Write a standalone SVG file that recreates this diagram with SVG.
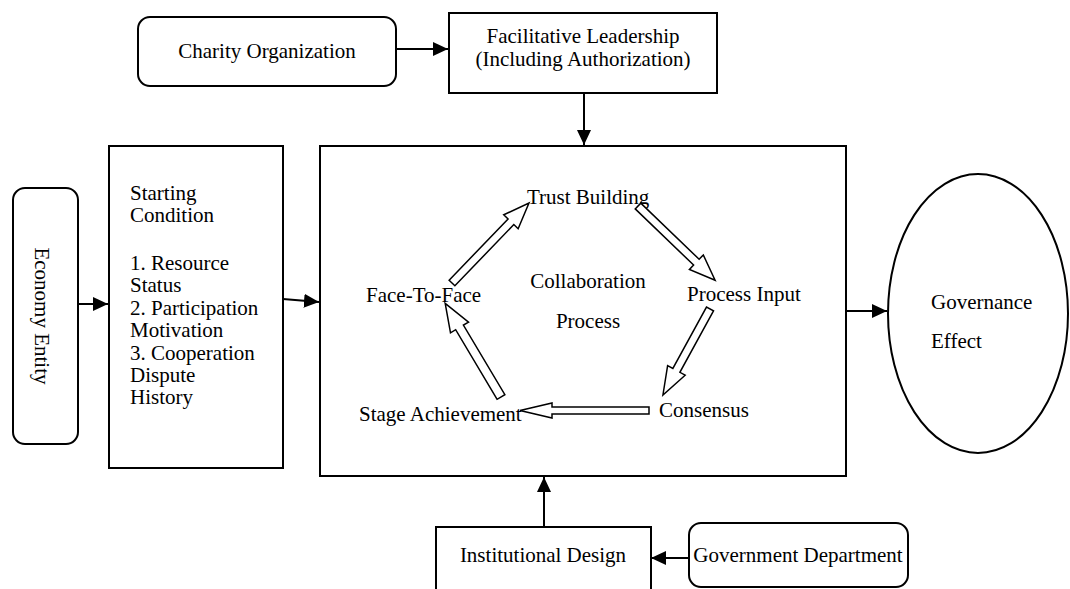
<svg xmlns="http://www.w3.org/2000/svg" width="1070" height="589" viewBox="0 0 1070 589">
<style>
  text { font-family: "Liberation Serif", "Times New Roman", serif; font-size: 21px; fill: #000; }
  .box { fill: #fff; stroke: #000; stroke-width: 2; }
  .conn { stroke: #000; stroke-width: 2; fill: none; }
  .block { fill: #fff; stroke: #000; stroke-width: 1.5; stroke-linejoin: miter; }
  .mid { text-anchor: middle; }
</style>
<defs>
  <marker id="ah" markerUnits="userSpaceOnUse" markerWidth="16" markerHeight="14" refX="15" refY="7" orient="auto">
    <path d="M0,0 L15,7 L0,14 Z" fill="#000"/>
  </marker>
</defs>
<rect width="1070" height="589" fill="#fff"/>

<g id="charity">
  <rect class="box" x="138" y="17" width="258" height="69" rx="12"/>
  <text class="mid" x="267" y="58">Charity Organization</text>
</g>
<g id="facilitative">
  <rect class="box" x="449" y="13" width="268" height="80"/>
  <text class="mid" x="583" y="43">Facilitative Leadership</text>
  <text class="mid" x="583" y="66">(Including Authorization)</text>
</g>
<g id="economy">
  <rect class="box" x="13" y="188" width="65" height="256" rx="12"/>
  <text class="mid" transform="translate(35,316) rotate(90)">Economy Entity</text>
</g>
<g id="starting">
  <rect class="box" x="109" y="146" width="174" height="322"/>
  <text x="130" y="200">Starting</text>
  <text x="130" y="222">Condition</text>
  <text x="130" y="270">1. Resource</text>
  <text x="130" y="292">Status</text>
  <text x="130" y="315">2. Participation</text>
  <text x="130" y="337">Motivation</text>
  <text x="130" y="360">3. Cooperation</text>
  <text x="130" y="382">Dispute</text>
  <text x="130" y="404">History</text>
</g>
<g id="collaboration">
  <rect class="box" x="320" y="146" width="526" height="330"/>
  <text class="mid" x="588" y="288">Collaboration</text>
  <text class="mid" x="588" y="328">Process</text>
  <text x="527" y="204">Trust Building</text>
  <text x="687" y="301">Process Input</text>
  <text x="659" y="417">Consensus</text>
  <text x="359" y="421">Stage Achievement</text>
  <text x="366" y="302">Face-To-Face</text>
  <polygon class="block" transform="translate(452,283) rotate(-46.1)" points="0,-4 85,-4 85,-10 111,0 85,10 85,4 0,4"/>
  <polygon class="block" transform="translate(638,206) rotate(43.9)" points="0,-4 81,-4 81,-10 107,0 81,10 81,4 0,4"/>
  <polygon class="block" transform="translate(710,309) rotate(118.7)" points="0,-4 70,-4 70,-10 98,0 70,10 70,4 0,4"/>
  <polygon class="block" transform="translate(649,410.5) rotate(180)" points="0,-3.5 97,-3.5 97,-7.5 129,0 97,7.5 97,3.5 0,3.5"/>
  <polygon class="block" transform="translate(501,397) rotate(-120.8)" points="0,-4.5 81,-4.5 81,-10.5 109,0 81,10.5 81,4.5 0,4.5"/>
</g>
<g id="governance">
  <ellipse class="box" cx="978" cy="313.5" rx="90" ry="139.5"/>
  <text x="931" y="309">Governance</text>
  <text x="931" y="348">Effect</text>
</g>
<g id="institutional">
  <rect class="box" x="436" y="527" width="215" height="80"/>
  <text class="mid" x="543" y="562">Institutional Design</text>
</g>
<g id="government">
  <rect class="box" x="689" y="523" width="219" height="64" rx="12"/>
  <text class="mid" x="798" y="562">Government Department</text>
</g>

<g id="connectors">
  <line class="conn" x1="396" y1="49" x2="448" y2="49" marker-end="url(#ah)"/>
  <line class="conn" x1="584" y1="93" x2="584" y2="145" marker-end="url(#ah)"/>
  <line class="conn" x1="78" y1="304" x2="108" y2="304" marker-end="url(#ah)"/>
  <line class="conn" x1="283" y1="299" x2="319" y2="302" marker-end="url(#ah)"/>
  <line class="conn" x1="846" y1="311" x2="887" y2="311" marker-end="url(#ah)"/>
  <line class="conn" x1="544" y1="527" x2="544" y2="477" marker-end="url(#ah)"/>
  <line class="conn" x1="689" y1="558" x2="651" y2="558" marker-end="url(#ah)"/>
</g>
</svg>
